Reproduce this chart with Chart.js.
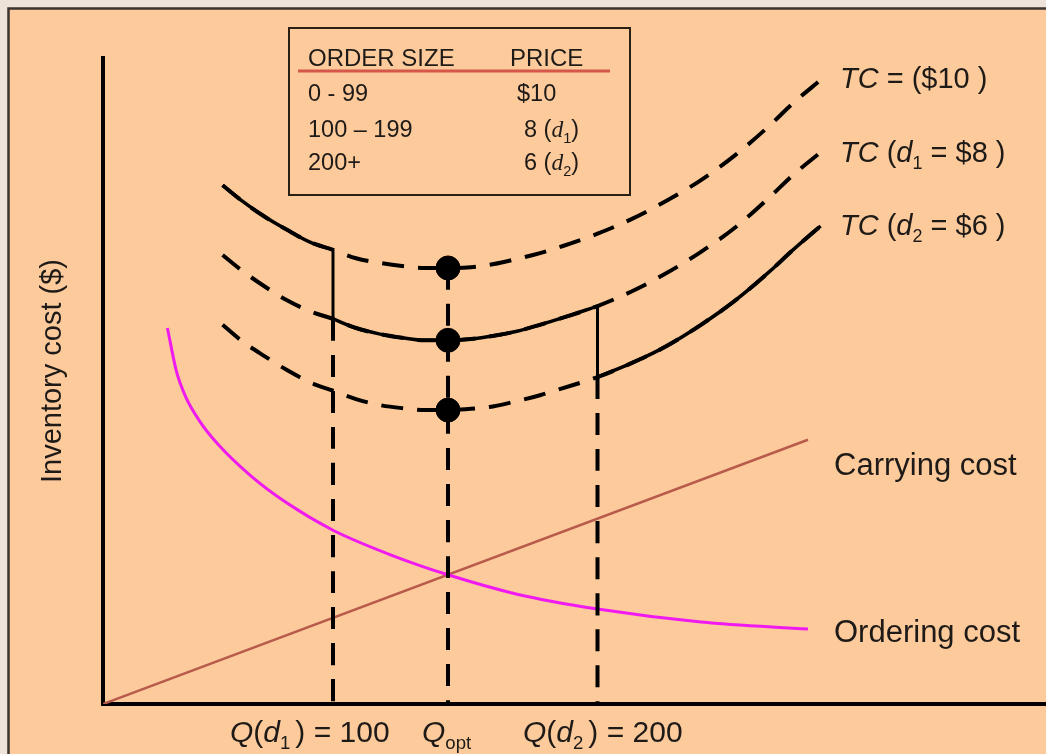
<!DOCTYPE html>
<html><head><meta charset="utf-8">
<script src="https://cdn.jsdelivr.net/npm/chart.js@4.4.0/dist/chart.umd.min.js"></script>
<style>html,body{margin:0;padding:0;background:#EEE3D8;} canvas{display:block}</style>
</head><body>
<canvas id="c" width="1046" height="754"></canvas>
<script>
// ---- data (order quantity Q vs inventory cost, conceptual units) ----
const quantities = [52,60,70,80,90,100,110,120,130,140,150,160,170,180,190,200,215,230,245,260,275,290,300,312];
const tcPrice10 = [80.3,78.0,75.5,73.4,71.5,70.3,69.0,68.3,67.8,67.5,67.5,67.6,68.1,68.9,69.8,70.9,72.8,75.1,77.9,81.1,85.0,89.6,93.0,96.6];
const tcPrice8  = [69.5,67.2,64.7,62.5,60.8,59.6,58.2,57.3,56.7,56.3,56.3,56.5,57.0,57.7,58.7,59.8,61.6,63.9,66.7,70.0,73.8,78.5,81.9,85.4];
const tcPrice6  = [58.7,56.3,53.9,51.7,49.8,48.5,47.2,46.3,45.8,45.5,45.5,45.7,46.1,46.9,47.8,48.9,50.6,52.8,55.4,58.7,62.5,67.0,70.3,74.0];
const orderingQ    = [28,32,36,42,50,64,80,100,125,150,180,215,260,306.5];
const orderingCost = [58.2,51.4,47.5,43.8,40.2,35.4,31.1,26.9,23.1,20.0,17.0,14.7,12.7,11.6];
const carryingQ    = [0,306.5];
const carryingCost = [0,40.9];
const breakQ = [100,150,215];           // Q(d1), Qopt, Q(d2)
const tableHeader = ['ORDER SIZE','PRICE'];
const tableSizes  = ['0 - 99','100 – 199','200+'];
const tablePrices = ['$10','8','6'];
const sideLabels  = ['Carrying cost','Ordering cost'];
const yTitle = 'Inventory cost ($)';

// ---- helpers ----
const pts = (xs, ys) => xs.map((x,i)=>({x, y:ys[i]}));
const iD1 = quantities.indexOf(breakQ[0]);
const iOpt = quantities.indexOf(breakQ[1]);
const iD2 = quantities.indexOf(breakQ[2]);
const FONT = '"Liberation Sans", Arial, sans-serif';
const SERIF = '"Liberation Serif", "Times New Roman", serif';
const DASH = [22,14];
const ds = (data, opt) => Object.assign({data, borderColor:'#000', borderWidth:4, pointRadius:0, fill:false, cubicInterpolationMode:'monotone', showLine:true}, opt);

const datasets = [
  {type:'scatter', data:[{x:breakQ[1],y:tcPrice10[iOpt]},{x:breakQ[1],y:tcPrice8[iOpt]},{x:breakQ[1],y:tcPrice6[iOpt]}],
   pointRadius:12, pointBackgroundColor:'#000', pointBorderColor:'#000', showLine:false},
  ds(pts(quantities.slice(0,iD1+1), tcPrice10.slice(0,iD1+1)), {borderWidth:3.5}),
  ds(pts(quantities.slice(iD1,iD2+1), tcPrice8.slice(iD1,iD2+1)), {borderWidth:3.5}),
  ds(pts(quantities.slice(iD2), tcPrice6.slice(iD2)), {borderWidth:3.5}),
  ds([{x:breakQ[0],y:tcPrice10[iD1]},{x:breakQ[0],y:tcPrice8[iD1]}], {borderWidth:3}),
  ds([{x:breakQ[2],y:tcPrice8[iD2]},{x:breakQ[2],y:tcPrice6[iD2]}], {borderWidth:3}),
  ds([{x:breakQ[0],y:tcPrice8[iD1]},{x:breakQ[0],y:0}], {borderDash:DASH}),
  ds([{x:breakQ[1],y:tcPrice10[iOpt]},{x:breakQ[1],y:0}], {borderDash:DASH}),
  ds([{x:breakQ[2],y:tcPrice6[iD2]},{x:breakQ[2],y:0}], {borderDash:DASH}),
  ds(pts(quantities, tcPrice10), {borderDash:DASH}),
  ds(pts(quantities, tcPrice8), {borderDash:DASH}),
  ds(pts(quantities, tcPrice6), {borderDash:DASH}),
  ds(pts(orderingQ, orderingCost), {borderColor:'#F01AF0', borderWidth:3}),
  ds(pts(carryingQ, carryingCost), {borderColor:'#B85A4C', borderWidth:2.5, cubicInterpolationMode:'default'}),
];

function runs(ctx, x, y, list, size) {
  let cx = x;
  for (const r of list) {
    const s = r.sub ? size*0.62 : size;
    ctx.font = (r.it ? 'italic ' : '') + s + 'px ' + (r.fam || FONT);
    ctx.fillText(r.t, cx, y + (r.sub ? size*0.24 : 0));
    cx += ctx.measureText(r.t).width + (r.gap || 0);
  }
}

const bgPlugin = {
  id:'bg',
  beforeDraw(chart){
    const c = chart.ctx;
    c.save();
    c.fillStyle = '#EEE3D8'; c.fillRect(0,0,chart.width,chart.height);
    c.fillStyle = '#FDCB9B'; c.fillRect(8,8,chart.width,chart.height);
    c.strokeStyle = '#3a3530'; c.lineWidth = 2.5;
    c.beginPath(); c.moveTo(8.5, chart.height+5); c.lineTo(8.5,8.5); c.lineTo(chart.width+5,8.5); c.stroke();
    c.restore();
  }
};

const textPlugin = {
  id:'txt',
  afterDraw(chart){
    const c = chart.ctx;
    c.save();
    c.fillStyle = '#1e1a18';
    c.textBaseline = 'alphabetic';
    c.textAlign = 'left';
    c.save();
    c.translate(53, 371); c.rotate(-Math.PI/2);
    c.textAlign='center'; c.textBaseline='middle';
    c.font = '29px ' + FONT;
    c.fillText(yTitle, 0, 0);
    c.restore();
    c.strokeStyle = '#2b2016'; c.lineWidth = 2;
    c.strokeRect(289, 28, 341, 167);
    c.strokeStyle = '#D4574A'; c.lineWidth = 3;
    c.beginPath(); c.moveTo(298, 71); c.lineTo(610, 71); c.stroke();
    c.font = '24px ' + FONT;
    c.fillText(tableHeader[0], 308, 66);
    c.fillText(tableHeader[1], 510, 66);
    const rowY = [101, 137, 170];
    c.font = '23.5px ' + FONT;
    tableSizes.forEach((t,i)=>{ c.fillText(t, 308, rowY[i]); });
    c.fillText(tablePrices[0], 517, rowY[0]);
    runs(c, 524, rowY[1], [{t:tablePrices[1]+' ('},{t:'d',it:true,fam:SERIF},{t:'1',sub:true},{t:')'}], 23.5);
    runs(c, 524, rowY[2], [{t:tablePrices[2]+' ('},{t:'d',it:true,fam:SERIF},{t:'2',sub:true},{t:')'}], 23.5);
    runs(c, 840, 88, [{t:'TC',it:true},{t:' = ($10 )'}], 29);
    runs(c, 840, 162, [{t:'TC',it:true},{t:' ('},{t:'d',it:true},{t:'1',sub:true},{t:' = $8 )'}], 29);
    runs(c, 840, 235, [{t:'TC',it:true},{t:' ('},{t:'d',it:true},{t:'2',sub:true},{t:' = $6 )'}], 29);
    c.font = '31px ' + FONT;
    c.fillText(sideLabels[0], 834, 475);
    c.fillText(sideLabels[1], 834, 642);
    runs(c, 230, 742, [{t:'Q',it:true},{t:'('},{t:'d',it:true},{t:'1',sub:true,gap:5},{t:') = 100'}], 30);
    runs(c, 422, 742, [{t:'Q',it:true},{t:'opt',sub:true}], 30);
    runs(c, 523, 742, [{t:'Q',it:true},{t:'('},{t:'d',it:true},{t:'2',sub:true,gap:5},{t:') = 200'}], 30);
    c.restore();
  }
};

new Chart(document.getElementById('c'), {
  type:'line',
  data:{datasets},
  options:{
    responsive:false, animation:false,
    layout:{autoPadding:false, padding:{left:0,right:0,top:58,bottom:0}},
    plugins:{legend:{display:false}, tooltip:{enabled:false}},
    scales:{
      x:{type:'linear', min:0, max:410, grid:{display:false}, ticks:{display:false},
         border:{display:true, color:'#000', width:4},
         afterFit:s=>{s.height=50; s.paddingLeft=0; s.paddingRight=0;}},
      y:{type:'linear', min:0, max:100, grid:{display:false}, ticks:{display:false},
         border:{display:true, color:'#000', width:4},
         afterFit:s=>{s.width=103; s.paddingTop=0; s.paddingBottom=0;}}
    }
  },
  plugins:[bgPlugin, textPlugin]
});
</script>
</body></html>
